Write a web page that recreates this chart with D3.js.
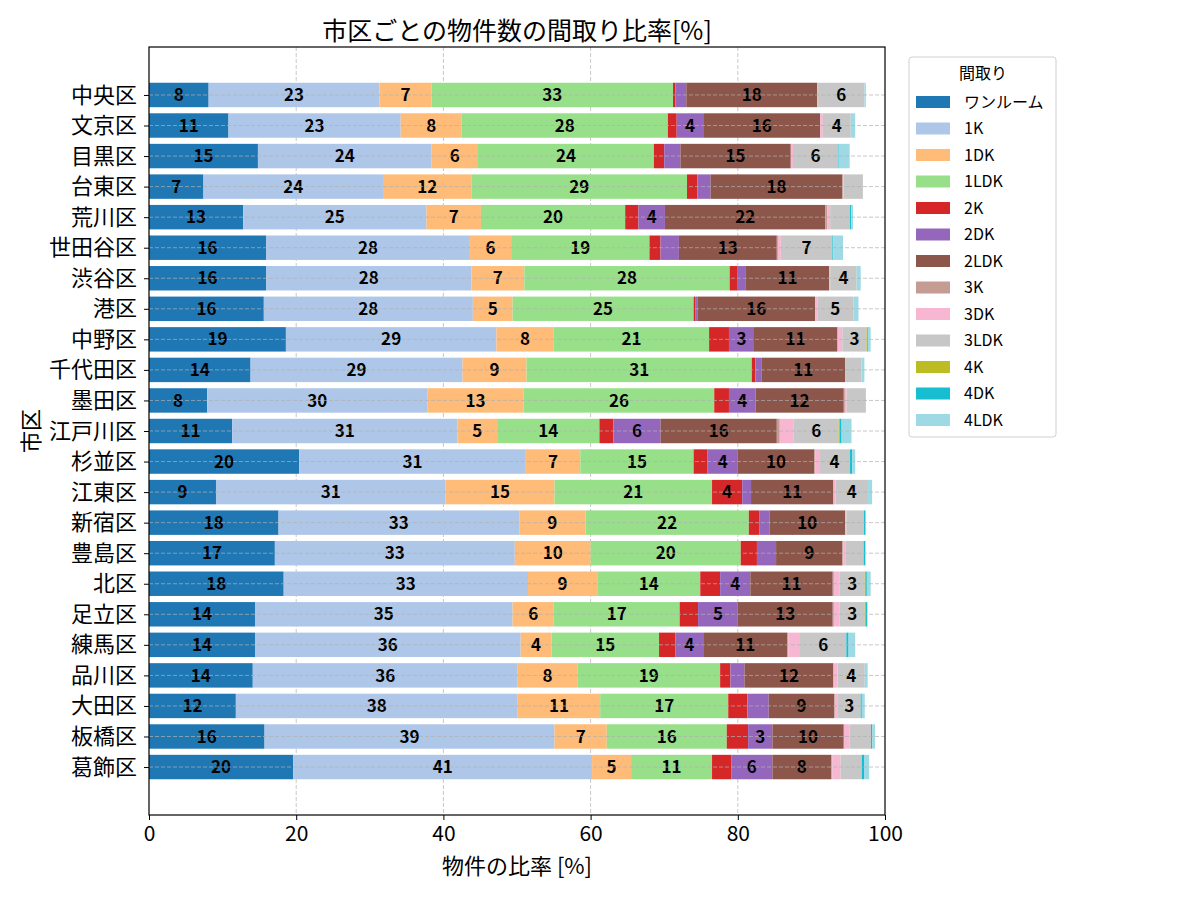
<!DOCTYPE html>
<html>
<head>
<meta charset="utf-8">
<script src="https://cdn.jsdelivr.net/npm/d3@7"></script>
<style>
  body { margin: 0; background: #fff; }
  svg text { font-family: "Noto Sans CJK JP", "Noto Sans", sans-serif; }
</style>
</head>
<body>
<script>
// 市区（上から順）
var wards = ['中央区','文京区','目黒区','台東区','荒川区','世田谷区','渋谷区','港区','中野区','千代田区','墨田区','江戸川区','杉並区','江東区','新宿区','豊島区','北区','足立区','練馬区','品川区','大田区','板橋区','葛飾区'];

// 間取り
var layouts = ['ワンルーム','1K','1DK','1LDK','2K','2DK','2LDK','3K','3DK','3LDK','4K','4DK','4LDK'];
var colors = ['#1f77b4','#aec7e8','#ffbb78','#98df8a','#d62728','#9467bd','#8c564b','#c49c94','#f7b6d2','#c7c7c7','#bcbd22','#17becf','#9edae5'];

// 各間取りの比率[%]（wards の順）
var oneRoom = [8.1,10.8,14.8,7.4,12.8,15.9,15.9,15.6,18.6,13.8,7.9,11.3,20.4,9.1,17.6,17.1,18.3,14.4,14.4,14.1,11.8,15.7,19.6];
var oneK    = [23.2,23.4,23.6,24.4,24.9,27.7,27.9,28.4,28.6,28.8,29.9,30.6,30.8,31.2,32.7,32.6,33.2,35.0,36.1,36.0,38.3,39.4,40.6];
var oneDK   = [7.1,8.3,6.3,12.0,7.4,5.6,7.2,5.4,7.8,8.7,13.1,5.4,7.4,14.8,9.0,10.3,9.4,5.6,4.2,8.1,11.2,7.1,5.3];
var oneLDK  = [32.8,28.0,23.9,29.3,19.6,18.8,27.9,24.6,21.1,30.6,25.9,13.9,15.4,21.4,22.2,20.4,14.0,17.1,14.6,19.4,17.4,16.3,11.0];
var twoK    = [0.3,1.2,1.4,1.4,1.8,1.5,1.0,0.2,2.7,0.5,2.0,1.9,1.9,4.1,1.4,2.2,2.7,2.5,2.2,1.4,2.6,2.9,2.6];
var twoDK   = [1.5,3.6,2.2,1.8,3.6,2.5,1.2,0.3,3.4,0.8,3.6,6.4,4.1,1.2,1.4,2.6,4.1,5.4,3.8,1.9,2.9,3.3,5.6];
var twoLDK  = [17.8,15.9,15.0,17.9,21.8,13.3,11.3,16.0,11.3,11.4,12.0,15.8,10.4,11.2,10.3,9.0,11.2,12.9,11.4,12.1,8.9,9.7,8.0];
var threeK  = [0,0,0,0.1,0.25,0.15,0,0,0.1,0,0.15,0.4,0.15,0,0,0.15,0.15,0.15,0.15,0,0.1,0,0.15];
var threeDK = [0.1,0.35,0.3,0.1,0.4,0.4,0.15,0.3,0.6,0,0.25,1.9,0.5,0.3,0.15,0.25,0.8,0.8,1.6,0.55,0.4,0.8,1.1];
var threeLDK= [6.3,3.8,6.1,2.6,2.7,7.0,3.6,4.9,3.3,2.2,2.6,6.1,4.2,4.4,2.4,2.5,3.4,3.4,6.3,3.7,3.1,2.9,2.9];
var fourK   = [0,0,0,0,0,0,0,0,0.1,0,0,0.15,0,0,0,0,0.2,0.15,0,0,0,0,0];
var fourDK  = [0,0,0.1,0,0.15,0.1,0,0,0.15,0,0,0.25,0.3,0,0.2,0.2,0.1,0.15,0.3,0,0.15,0.15,0.3];
var fourLDK = [0.2,0.6,1.5,0,0.25,1.35,0.55,0.7,0.3,0.4,0,1.35,0.4,0.55,0,0.1,0.5,0.1,0.9,0.4,0.4,0.4,0.7];

var xTicks = [0, 20, 40, 60, 80, 100];

var series = [oneRoom, oneK, oneDK, oneLDK, twoK, twoDK, twoLDK, threeK, threeDK, threeLDK, fourK, fourDK, fourLDK];

// d3.stack 用の表を作る
var table = wards.map(function(w, i) {
	var row = { ward: w, idx: i };
	layouts.forEach(function(k, j) { row[k] = series[j][i]; });
	return row;
});

var W = 1200, H = 900;
var margin = { left: 149, right: 315, top: 47, bottom: 85 };
var plotW = W - margin.left - margin.right,
	plotH = H - margin.top - margin.bottom;

var svg = d3.select('body').append('svg')
	.attr('width', W)
	.attr('height', H);

var x = d3.scaleLinear().domain([0, 100]).range([margin.left, margin.left + plotW]);
var y = d3.scaleLinear().domain([-1.57, wards.length - 1 + 1.57]).range([margin.top, margin.top + plotH]);
var barH = y(0.4) - y(-0.4);

// 縦のグリッド（棒の後ろ）
svg.append('g').selectAll('line')
	.data(xTicks.slice(1, -1))
	.enter().append('line')
	.attr('x1', function(d) { return x(d); })
	.attr('x2', function(d) { return x(d); })
	.attr('y1', margin.top)
	.attr('y2', margin.top + plotH)
	.attr('stroke', '#b0b0b0')
	.attr('stroke-opacity', 0.7)
	.attr('stroke-dasharray', '4,2');

var stacked = d3.stack().keys(layouts)(table);

var layer = svg.append('g').selectAll('g')
	.data(stacked)
	.enter().append('g')
	.attr('fill', function(d, i) { return colors[i]; });

layer.selectAll('rect')
	.data(function(d) { return d; })
	.enter().append('rect')
	.attr('x', function(d) { return x(d[0]); })
	.attr('width', function(d) { return Math.max(0, x(d[1]) - x(d[0])); })
	.attr('y', function(d) { return y(d.data.idx) - barH / 2; })
	.attr('height', barH);

// 横のグリッド（棒の上）
svg.append('g').selectAll('line')
	.data(wards)
	.enter().append('line')
	.attr('x1', margin.left)
	.attr('x2', margin.left + plotW)
	.attr('y1', function(d, i) { return y(i); })
	.attr('y2', function(d, i) { return y(i); })
	.attr('stroke', '#b0b0b0')
	.attr('stroke-opacity', 0.7)
	.attr('stroke-dasharray', '4,2');

// 3%以上の区間にラベル
layer.selectAll('text')
	.data(function(d) { return d; })
	.enter().filter(function(d) { return d[1] - d[0] >= 3; })
	.append('text')
	.attr('x', function(d) { return x((d[0] + d[1]) / 2); })
	.attr('y', function(d) { return y(d.data.idx); })
	.attr('dy', '0.36em')
	.attr('text-anchor', 'middle')
	.attr('fill', '#000')
	.style('font-size', '17px')
	.style('font-weight', 'bold')
	.text(function(d) { return Math.round(d[1] - d[0]); });

// 枠
svg.append('rect')
	.attr('x', margin.left)
	.attr('y', margin.top)
	.attr('width', plotW)
	.attr('height', plotH)
	.attr('fill', 'none')
	.attr('stroke', '#000')
	.attr('stroke-width', 1.2);

// x 軸
var xAxis = svg.append('g')
	.attr('transform', 'translate(0,' + (margin.top + plotH) + ')')
	.call(d3.axisBottom(x).tickValues(xTicks).tickSize(5).tickPadding(6));
xAxis.select('.domain').remove();
xAxis.selectAll('text').style('font-size', '21px').attr('fill', '#000');

// y 軸
var yAxis = svg.append('g')
	.attr('transform', 'translate(' + margin.left + ',0)')
	.call(d3.axisLeft(y).tickValues(d3.range(wards.length))
		.tickFormat(function(i) { return wards[i]; }).tickSize(5).tickPadding(7));
yAxis.select('.domain').remove();
yAxis.selectAll('text').style('font-size', '22px').attr('fill', '#000');

// タイトルと軸ラベル
svg.append('text')
	.attr('x', margin.left + plotW / 2)
	.attr('y', 31)
	.attr('dy', '0.35em')
	.attr('text-anchor', 'middle')
	.style('font-size', '25px')
	.text('市区ごとの物件数の間取り比率[%]');

svg.append('text')
	.attr('x', margin.left + plotW / 2)
	.attr('y', 866)
	.attr('dy', '0.35em')
	.attr('text-anchor', 'middle')
	.style('font-size', '22px')
	.text('物件の比率 [%]');

svg.append('text')
	.attr('transform', 'translate(31,' + (margin.top + plotH / 2) + ') rotate(-90)')
	.attr('dy', '0.35em')
	.attr('text-anchor', 'middle')
	.style('font-size', '22px')
	.text('市区');

// 凡例
var legend = svg.append('g').attr('transform', 'translate(909,57)');
legend.append('rect')
	.attr('width', 147)
	.attr('height', 380)
	.attr('rx', 3)
	.attr('fill', '#fff')
	.attr('stroke', '#d0d0d0');
legend.append('text')
	.attr('x', 74)
	.attr('y', 16)
	.attr('dy', '0.35em')
	.attr('text-anchor', 'middle')
	.style('font-size', '16px')
	.text('間取り');

var item = legend.selectAll('.item')
	.data(layouts)
	.enter().append('g')
	.attr('class', 'item')
	.attr('transform', function(d, i) { return 'translate(0,' + (45 + i * 26.5) + ')'; });
item.append('rect')
	.attr('x', 7)
	.attr('y', -6)
	.attr('width', 34)
	.attr('height', 12)
	.attr('fill', function(d, i) { return colors[i]; });
item.append('text')
	.attr('x', 55)
	.attr('dy', '0.35em')
	.style('font-size', '16px')
	.text(function(d) { return d; });
</script>
</body>
</html>
